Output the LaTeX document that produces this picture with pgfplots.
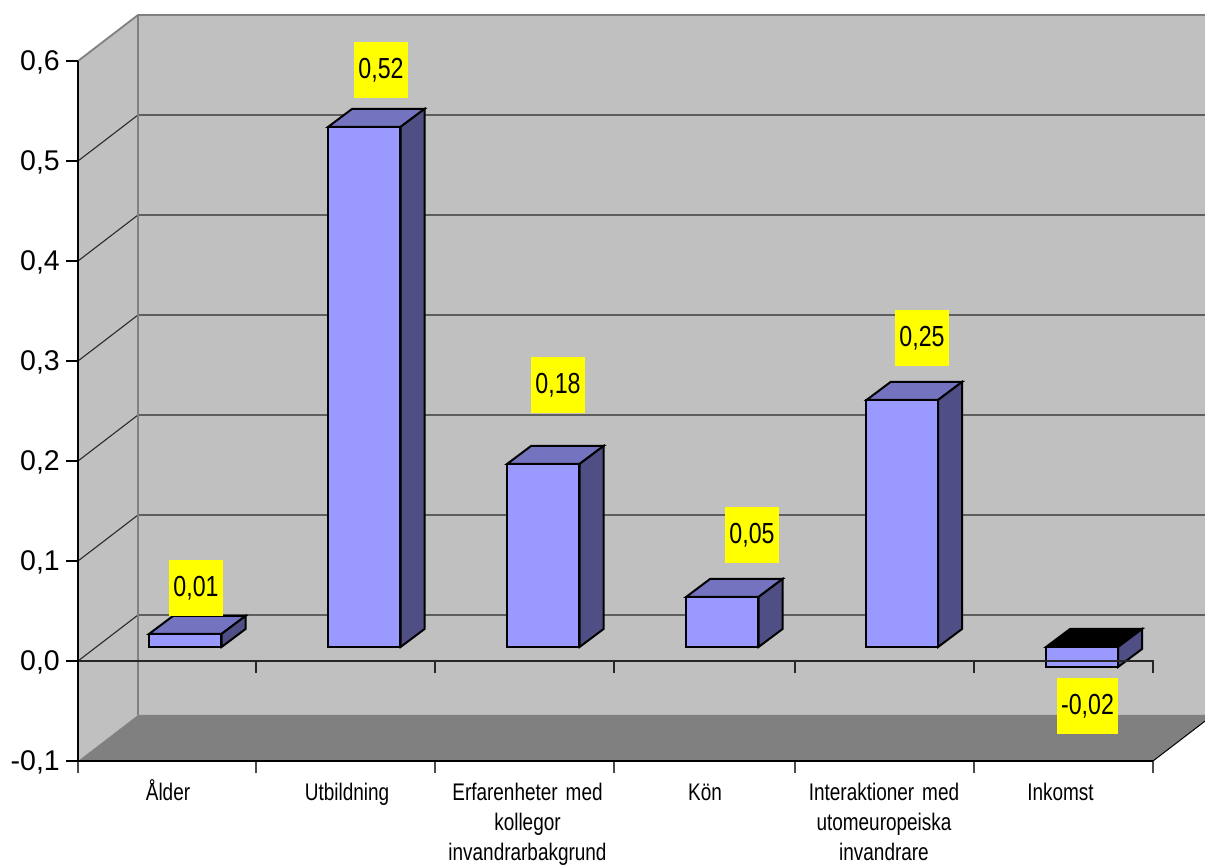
\documentclass[border=0pt]{standalone}
\usepackage{fontspec}
\usepackage{pgfplots}
\pgfplotsset{compat=1.18}
\setmainfont{Liberation Sans}
\newfontfamily\valfont[FakeStretch=0.80]{Liberation Sans}
\newfontfamily\catfont[FakeStretch=0.79]{Liberation Sans}
\definecolor{wall}{HTML}{C0C0C0}
\definecolor{floorc}{HTML}{808080}
\definecolor{front}{HTML}{9999FF}
\definecolor{topc}{HTML}{7373BF}
\definecolor{sidec}{HTML}{4F4F85}
\definecolor{gridc}{HTML}{2A2A2A}
\definecolor{labbg}{RGB}{255,255,0}
\begin{document}
\begin{tikzpicture}[x=1pt,y=1pt]
\useasboundingbox (0,0) rectangle (1205pt,865pt);
\clip (0,0) rectangle (1205pt,865pt);
\begin{axis}[
  at={(78pt,104pt)}, anchor=south west,
  scale only axis, width=1075pt, height=700pt,
  xmin=78, xmax=1153, ymin=-0.1, ymax=0.6,
  clip=false, axis on top,
  axis x line*=bottom, axis y line*=left,
  axis line style={black, line width=1.6pt},
  tick align=outside,
  tick style={black, line width=1.6pt},
  major tick length=12pt,
  ytick={-0.1,0,0.1,0.2,0.3,0.4,0.5,0.6},
  yticklabels={{-0,1},{0,0},{0,1},{0,2},{0,3},{0,4},{0,5},{0,6}},
  yticklabel style={font=\fontsize{28.5}{28.5}\selectfont, inner sep=0pt, xshift=-6pt, yshift=-1.5pt},
  xtick={168,347,527.5,705,884,1060.5},
  xticklabels={{Ålder},{Utbildning},{Erfarenheter med\\kollegor\\invandrarbakgrund},{Kön},{Interaktioner med\\utomeuropeiska\\invandrare},{Inkomst}},
  major x tick style={draw=none},
  minor xtick={78,256,435,614,795,974,1153},
  minor x tick style={black!70, line width=1.6pt},
  minor tick length=12pt,
  xticklabel style={font=\catfont\fontsize{24}{30}\selectfont, align=center, text width=220pt, inner sep=0pt, text height=18pt, text depth=0pt, yshift=-9.5pt},
  poly/.style={mark=none, sharp plot, forget plot, line join=miter},
  face/.style={poly, yshift=14pt, draw=black, line width=2pt},
]
% walls and floor
\addplot[poly, fill=wall, draw=none] coordinates {(78,0.6)(138,0.646)(138,-0.054)(78,-0.1)} -- cycle;
\addplot[poly, fill=wall, draw=none] coordinates {(138,0.646)(1213,0.646)(1213,-0.054)(138,-0.054)} -- cycle;
\addplot[poly, fill=floorc, draw=none] coordinates {(78,-0.1)(138,-0.054)(1213,-0.054)(1153,-0.1)} -- cycle;
% back wall grid lines
\addplot[poly, gridc, line width=1.1pt] coordinates {(78,0.5)(138,0.546)(1213,0.546)};
\addplot[poly, gridc, line width=1.1pt] coordinates {(78,0.4)(138,0.446)(1213,0.446)};
\addplot[poly, gridc, line width=1.1pt] coordinates {(78,0.3)(138,0.346)(1213,0.346)};
\addplot[poly, gridc, line width=1.1pt] coordinates {(78,0.2)(138,0.246)(1213,0.246)};
\addplot[poly, gridc, line width=1.1pt] coordinates {(78,0.1)(138,0.146)(1213,0.146)};
\addplot[poly, gridc, line width=1.1pt] coordinates {(78,0.0)(138,0.046)(1213,0.046)};
\addplot[poly, floorc, line width=1.8pt] coordinates {(78,0.6)(138,0.646)(1213,0.646)};
\addplot[poly, floorc, line width=1.8pt] coordinates {(138,0.646)(138,-0.054)};
\addplot[poly, black, line width=1pt] coordinates {(1153,-0.1)(1213,-0.054)};
% Ålder
\addplot[face, fill=topc] coordinates {(149,0.013)(221.5,0.013)(245.5,0.031)(173,0.031)} -- cycle;
\addplot[face, fill=sidec] coordinates {(221.5,0.013)(245.5,0.031)(245.5,0.018)(221.5,0)} -- cycle;
% Utbildning
\addplot[face, fill=topc] coordinates {(328,0.52)(400.5,0.52)(424.5,0.538)(352,0.538)} -- cycle;
\addplot[face, fill=sidec] coordinates {(400.5,0.52)(424.5,0.538)(424.5,0.018)(400.5,0)} -- cycle;
% Erfarenheter
\addplot[face, fill=topc] coordinates {(507,0.183)(579.5,0.183)(603.5,0.201)(531,0.201)} -- cycle;
\addplot[face, fill=sidec] coordinates {(579.5,0.183)(603.5,0.201)(603.5,0.018)(579.5,0)} -- cycle;
% Kön
\addplot[face, fill=topc] coordinates {(686,0.05)(758.5,0.05)(782.5,0.068)(710,0.068)} -- cycle;
\addplot[face, fill=sidec] coordinates {(758.5,0.05)(782.5,0.068)(782.5,0.018)(758.5,0)} -- cycle;
% Interaktioner
\addplot[face, fill=topc] coordinates {(866.5,0.247)(938,0.247)(962,0.265)(890.5,0.265)} -- cycle;
\addplot[face, fill=sidec] coordinates {(938,0.247)(962,0.265)(962,0.018)(938,0)} -- cycle;
% Inkomst
\addplot[face, fill=black] coordinates {(1046,0)(1118,0)(1142,0.018)(1070,0.018)} -- cycle;
\addplot[face, fill=sidec] coordinates {(1118,0)(1142,0.018)(1142,-0.002)(1118,-0.02)} -- cycle;
% front faces, from the values
\addplot[ybar, bar width=72pt, bar shift=0pt, yshift=14pt, fill=front, draw=black, line width=2pt, forget plot] coordinates {
 (185.3,0.013) (364.2,0.52) (543.2,0.183) (722.2,0.05) (902.2,0.247) (1082,-0.02)};
% zero line with its ticks
\addplot[poly, black!85, line width=1.6pt] coordinates {(78,0)(78,-0.012)(78,0)(256,0)(256,-0.012)(256,0)(435,0)(435,-0.012)(435,0)(614,0)(614,-0.012)(614,0)(795,0)(795,-0.012)(795,0)(974,0)(974,-0.012)(974,0)(1153,0)(1153,-0.012)};
% data labels
\tikzset{lab/.style={fill=labbg, text=black, inner sep=0pt, minimum width=54pt, minimum height=56pt, font=\valfont\fontsize{29}{29}\selectfont}}
\node[lab] at (axis cs:196,0.073) {0,01};
\node[lab] at (axis cs:381,0.591) {0,52};
\node[lab] at (axis cs:558,0.276) {0,18};
\node[lab] at (axis cs:752,0.126) {0,05};
\node[lab] at (axis cs:922,0.323) {0,25};
\node[lab, minimum width=61pt] at (axis cs:1087.5,-0.045) {-0,02};
\end{axis}
\end{tikzpicture}
\end{document}
